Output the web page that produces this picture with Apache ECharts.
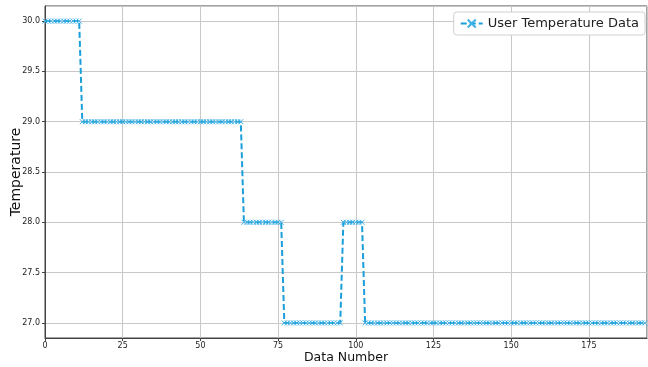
<!DOCTYPE html>
<html><head><meta charset="utf-8">
<script src="https://cdn.jsdelivr.net/npm/echarts@6/dist/echarts.min.js"></script>
<style>html,body{margin:0;padding:0;background:#fff}#c{width:648px;height:367px}</style>
</head><body><div id="c"></div>
<script>
const seriesName = "User Temperature Data";
const xTitle = "Data Number";
const yTitle = "Temperature";
const temperature = [
30,30,30,30,30,30,30,30,30,30,30,30,
29,29,29,29,29,29,29,29,29,29,29,29,29,29,29,29,29,29,29,29,29,29,29,29,29,29,29,29,29,29,29,29,29,29,29,29,29,29,29,29,29,29,29,29,29,29,29,29,29,29,29,29,
28,28,28,28,28,28,28,28,28,28,28,28,28,
27,27,27,27,27,27,27,27,27,27,27,27,27,27,27,27,27,27,27,
28,28,28,28,28,28,28,
27,27,27,27,27,27,27,27,27,27,27,27,27,27,27,27,27,27,27,27,27,27,27,27,27,27,27,27,27,27,
27,27,27,27,27,27,27,27,27,27,27,27,27,27,27,27,27,27,27,27,27,27,27,27,27,27,27,27,27,27,
27,27,27,27,27,27,27,27,27,27,27,27,27,27,27,27,27,27,27,27,27,27,27,27,27,27,27,27,27,27,27
];
const xTicks = [0,25,50,75,100,125,150,175];
const yTicks = [27.0,27.5,28.0,28.5,29.0,29.5,30.0];

const points = temperature.map((v,i)=>[i,v]);
const col = '#1a9fdb';
const chart = echarts.init(document.getElementById('c'));
chart.setOption({
  animation:false,
  textStyle:{fontFamily:'DejaVu Sans'},
  grid:{left:45,right:1,top:6,bottom:29,outerBoundsMode:'none',containLabel:false,show:true,borderColor:'#444',borderWidth:1},
  legend:{right:3,top:12,data:[seriesName],itemWidth:22,itemHeight:10,itemGap:8,
    textStyle:{fontSize:13,color:'#222',fontFamily:'DejaVu Sans'},
    borderColor:'#d0d0d0',borderWidth:1,borderRadius:3,padding:[5,6,5,6],backgroundColor:'#fff'},
  xAxis:{type:'value',min:0,max:193.7,interval:25,
    name:xTitle,nameLocation:'middle',nameGap:13,nameMoveOverlap:false,nameTextStyle:{fontSize:12.5,color:'#111',verticalAlign:'top'},
    axisLine:{lineStyle:{color:'#444'}},axisTick:{length:3,lineStyle:{color:'#444'}},
    axisLabel:{fontSize:8,color:'#222',margin:4,showMaxLabel:false,
      formatter:v=>xTicks.includes(v)?String(v):''},
    splitLine:{lineStyle:{color:'#c8c8c8',width:1}}},
  yAxis:{type:'value',min:26.85,max:30.15,splitNumber:6,
    name:yTitle,nameLocation:'middle',nameGap:22,nameMoveOverlap:false,nameTextStyle:{fontSize:14,color:'#111'},
    axisLine:{show:true,lineStyle:{color:'#444'}},axisTick:{show:true,length:3,lineStyle:{color:'#444'}},
    axisLabel:{fontSize:8,color:'#222',margin:5,showMinLabel:false,showMaxLabel:false,
      formatter:v=>yTicks.some(t=>Math.abs(t-v)<1e-6)?v.toFixed(1):''},
    splitLine:{lineStyle:{color:'#c8c8c8',width:1}}},
  series:[{name:seriesName,type:'line',data:points,
    symbol:'path://M0,0L10,10M10,0L0,10',symbolSize:5,showSymbol:true,
    itemStyle:{color:'#5bbde8',borderColor:'#3fb0e3',borderWidth:1},
    lineStyle:{color:col,width:2,type:[6,3]}}]
});
</script></body></html>
